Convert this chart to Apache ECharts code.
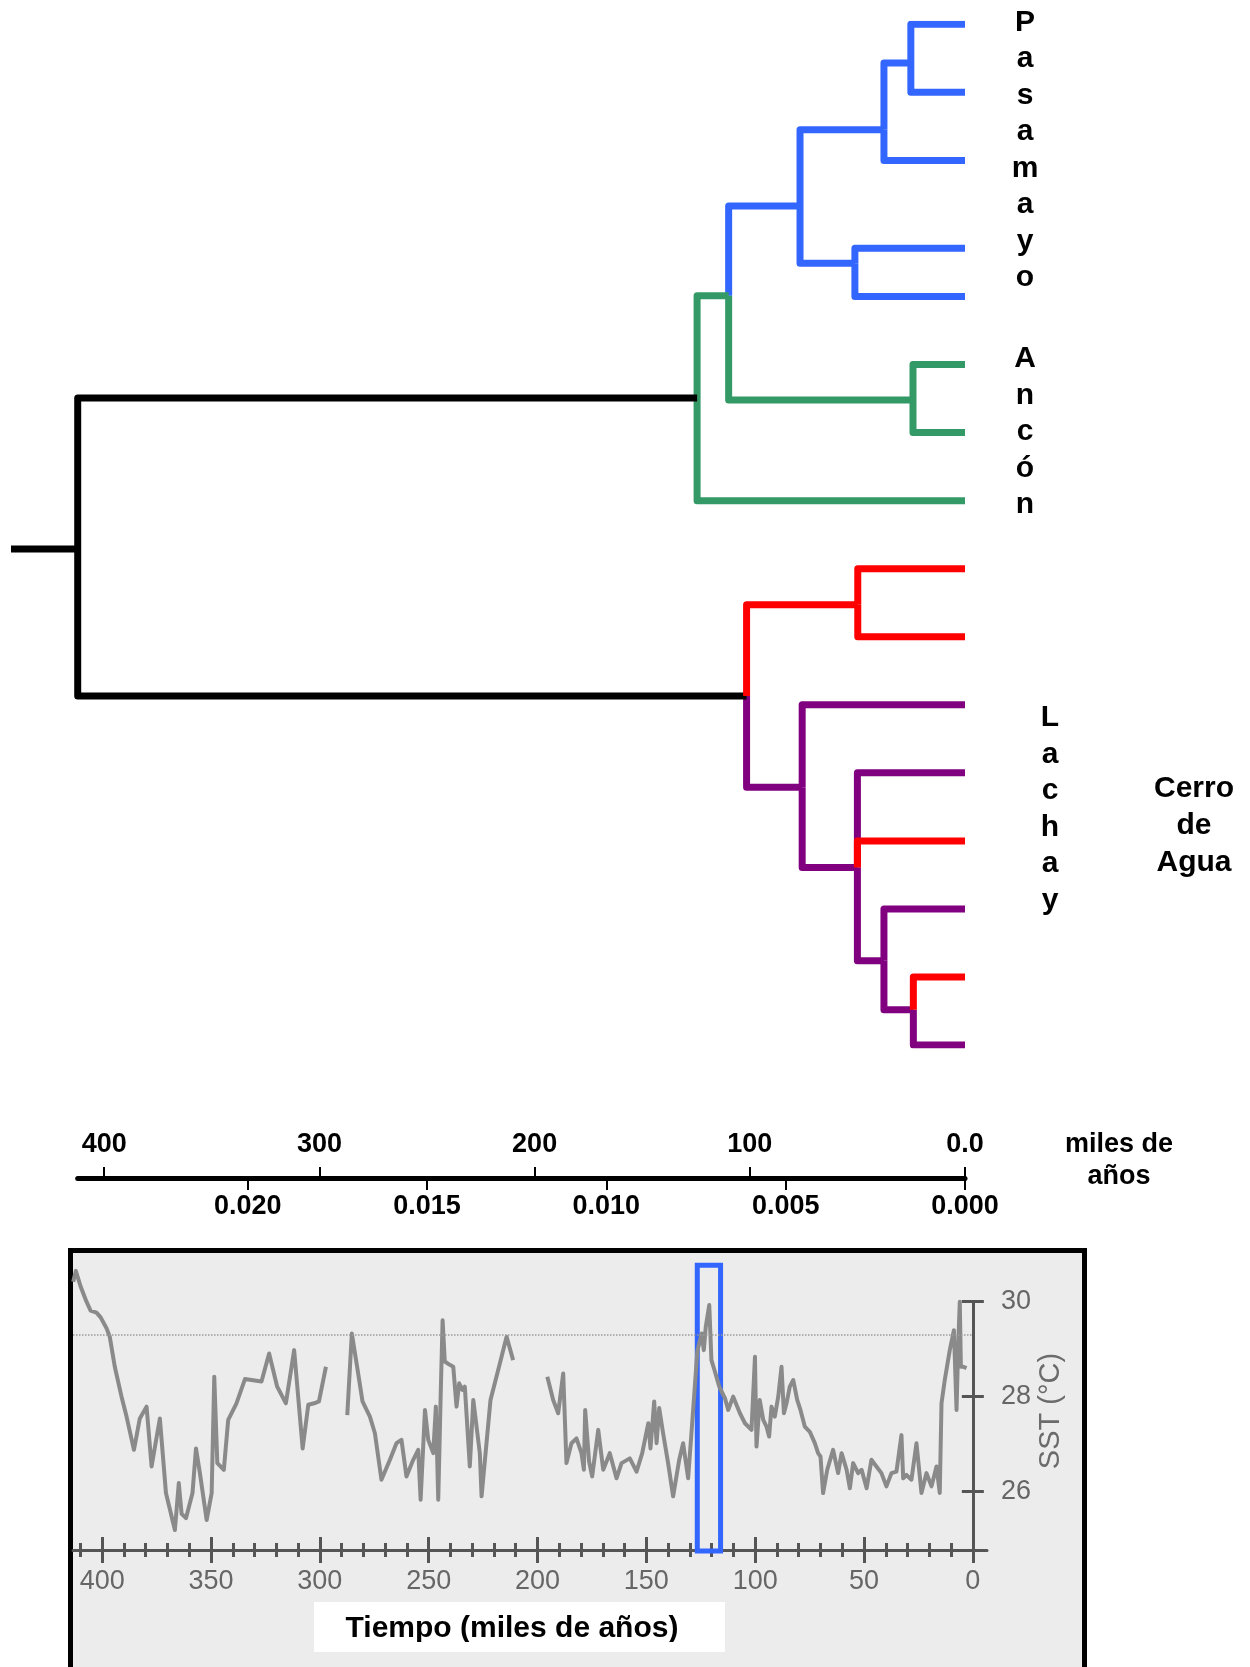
<!DOCTYPE html>
<html>
<head>
<meta charset="utf-8">
<title>Dendrograma y SST</title>
<script src="https://cdn.jsdelivr.net/npm/echarts@6.0.0/dist/echarts.min.js"></script>
<style>
  html, body { margin: 0; padding: 0; background: #fff; }
  #chart { width: 1250px; height: 1667px; }
</style>
</head>
<body>
<div id="chart"></div>
<script>
// ---- arbol: terminales (fila vertical, 0 = arriba) ----
const tipSlot = [0, 1, 2, 3.29, 4, 5, 6, 7, 8, 9, 10, 11, 12, 13, 14, 15];
const tipColor = ["blue", "blue", "blue", "blue", "blue", "green", "green", "green",
  "red", "red", "purple", "purple", "red", "purple", "red", "purple"];

// nodos internos: distancia, fila, hijos, color de la rama que llega al nodo
const nodeName = ["A", "B", "C", "D", "E", "F", "G", "H", "M", "L", "K", "J", "R2", "ROOT"];
const nodeDist = [0.00151, 0.00226, 0.00307, 0.00460, 0.00659, 0.00145, 0.00747,
  0.00299, 0.00144, 0.00226, 0.00300, 0.00454, 0.00609, 0.02474];
const nodeSlot = [0.57, 1.55, 3.51, 2.67, 3.99, 5.52, 5.49, 8.53, 14.48, 13.76, 12.39, 11.21, 9.87, 7.71];
const nodeKids = [["t0", "t1"], ["A", "t2"], ["t3", "t4"], ["B", "C"], ["D", "F"], ["t5", "t6"],
  ["E", "t7"], ["t8", "t9"], ["t14", "t15"], ["t13", "M"], ["t11", "t12", "L"], ["t10", "K"],
  ["H", "J"], ["G", "R2"]];
const nodeColor = ["blue", "blue", "blue", "blue", "green", "green", "black",
  "red", "purple", "purple", "purple", "purple", "black", "black"];
const rootStub = 0.02660;

// escalas del eje
const distTicks = [0, 0.005, 0.010, 0.015, 0.020];
const kaTicks = [0, 100, 200, 300, 400];
const distPerKa = 0.00006;

// ---- SST (panel inferior) ----
const sstAge = [413.3, 412.1, 409.9, 407.2, 405.3, 402.6, 400.7, 398.0, 396.5, 394.2,
  391.1, 388.8, 385.4, 382.7, 379.6, 377.3, 373.5, 370.7, 366.6, 364.8,
  363.5, 361.5, 358.5, 356.9, 355.1, 352.0, 349.7, 348.5, 347.1, 344.1,
  342.1, 338.3, 334.4, 331.4, 326.8, 323.3, 319.6, 315.6, 311.8, 307.9,
  305.3, 302.6, 300.4, 297.2,
  292,
  287.4, 285.3, 282.4, 280.4, 277.0, 274.7, 271.7, 267.8, 264.8, 262.5,
  260.2, 257.1, 254.8, 253.7, 251.7, 250.2, 247.9, 246.7, 245.6, 244.5,
  243.6, 242.6, 240.3, 238.7, 237.2, 236.0, 234.4, 233.4, 231.1, 229.5,
  226.5, 225.7, 221.6, 217.3, 214.2, 211.2,
  203,
  195.5, 192.8, 190.5, 188.2, 186.7, 184.4, 182.1, 179.8, 178.7, 178.1,
  176.3, 174.9, 172.1, 169.8, 166.8, 163.7, 161.4, 157.6, 154.5, 151.9,
  149.1, 148.1, 146.4, 145.3, 144.1, 142.3, 140.0, 137.7, 134.9, 133.1,
  130.8, 128.5, 126.6, 124.6, 123.6, 122.7, 121.1, 120.1, 118.5, 116.5,
  113.9, 112.4, 110.1, 107.0, 104.7, 101.7, 100.1, 99.4, 97.9, 96.3,
  94.8, 93.6, 92.5, 91.0, 89.4, 87.9, 86.8, 85.6, 84.1, 82.5,
  80.7, 79.2, 77.2, 74.9, 72.6, 71.1, 70.0, 68.8, 66.9, 64.2,
  61.9, 60.3, 58.0, 56.5, 55.0, 52.7, 51.1, 48.8, 46.6, 44.3,
  42.0, 39.7, 37.4, 35.1, 32.8, 32.0, 30.5, 28.2, 25.9, 23.6,
  21.3, 19.0, 16.7, 15.2, 14.4, 12.9, 10.6, 8.7, 7.5, 6.7,
  6.0, 5.5, 4.4, 2.9];
const sstTemp = [30.42, 30.65, 30.32, 30.00, 29.81, 29.77, 29.67, 29.44, 29.26, 28.63,
  28.00, 27.58, 26.88, 27.54, 27.79, 26.53, 27.54, 25.97, 25.19, 26.18,
  25.53, 25.44, 25.97, 26.91, 26.39, 25.40, 25.97, 28.42, 26.60, 26.46,
  27.51, 27.86, 28.37, 28.35, 28.32, 28.91, 28.21, 27.86, 28.98, 26.91,
  27.83, 27.86, 27.90, 28.63,
  null,
  27.61, 29.33, 28.49, 27.90, 27.58, 27.23, 26.25, 26.67, 27.02, 27.09,
  26.32, 26.67, 26.88, 25.83, 27.72, 27.09, 26.81, 27.79, 25.83, 28.00,
  29.61, 28.74, 28.67, 28.63, 27.79, 28.28, 28.14, 28.21, 26.53, 27.93,
  26.81, 25.90, 27.93, 28.70, 29.26, 28.77,
  null,
  28.42, 27.93, 27.65, 28.49, 26.60, 27.02, 27.12, 26.81, 26.46, 27.72,
  26.63, 26.32, 27.30, 26.46, 26.81, 26.28, 26.60, 26.70, 26.42, 26.81,
  27.44, 26.91, 27.90, 27.02, 27.76, 27.23, 26.60, 25.90, 26.67, 27.02,
  26.28, 27.72, 28.95, 29.33, 28.98, 29.47, 29.93, 28.77, 28.53, 28.21,
  27.97, 27.72, 28.00, 27.65, 27.44, 27.30, 28.84, 26.95, 27.93, 27.51,
  27.37, 27.16, 27.79, 27.58, 28.00, 28.63, 27.65, 27.86, 28.21, 28.35,
  27.93, 27.72, 27.37, 27.26, 27.02, 26.81, 26.74, 25.97, 26.46, 26.88,
  26.39, 26.81, 26.46, 26.07, 26.60, 26.39, 26.46, 26.07, 26.67, 26.53,
  26.39, 26.11, 26.39, 26.42, 27.19, 26.28, 26.35, 26.25, 27.02, 25.97,
  26.39, 26.11, 26.53, 25.97, 27.86, 28.35, 28.98, 29.40, 27.72, 29.12,
  30.00, 28.63, 28.63, 28.60];
const timeMajor = [0, 50, 100, 150, 200, 250, 300, 350, 400];
const timeMinor = [10, 20, 30, 40, 60, 70, 80, 90, 110, 120, 130, 140, 160, 170, 180, 190,
  210, 220, 230, 240, 260, 270, 280, 290, 310, 320, 330, 340, 360, 370, 380, 390, 410];
const sstTicks = [26, 28, 30];
const sstRef = 29.31;            // linea punteada
const ligAge = [126.6, 115.9];   // recuadro azul (ultimo interglacial)
const ligTemp = [30.77, 24.75];

const palette = { blue: "#3366ff", green: "#339966", red: "#ff0000", purple: "#800080", black: "#000000" };
const FONT = "Liberation Sans, Arial, Helvetica, sans-serif";
const GRAY = "#555";

// ramas del arbol en codo
function tipOrNode(id) {
  if (id[0] === "t") {
    const i = +id.slice(1);
    return { d: 0, s: tipSlot[i], c: tipColor[i] };
  }
  const k = nodeName.indexOf(id);
  return { d: nodeDist[k], s: nodeSlot[k], c: nodeColor[k] };
}
const edges = [];
nodeName.forEach((n, k) => {
  nodeKids[k].forEach((kid) => {
    const p = tipOrNode(kid);
    edges.push({
      coords: [[nodeDist[k], nodeSlot[k]], [nodeDist[k], p.s], [p.d, p.s]],
      lineStyle: { color: palette[p.c] },
      red: p.c === "red",
    });
  });
});
const r = nodeName.indexOf("ROOT");
edges.push({ coords: [[rootStub, nodeSlot[r]], [nodeDist[r], nodeSlot[r]]], lineStyle: { color: palette.black }, red: false });
edges.sort((a, b) => a.red - b.red);

const timeAxis = (ticks, len, inside, withLine, withLabel) => ({
  gridIndex: 2,
  type: "value",
  inverse: true,
  min: -6.5,
  max: 413.4,
  position: "bottom",
  splitLine: { show: false },
  axisLine: { show: withLine, onZero: false, lineStyle: { color: GRAY, width: 3 } },
  axisTick: { show: true, inside: inside, length: len, customValues: ticks, lineStyle: { color: GRAY, width: 3 } },
  axisLabel: { show: withLabel, customValues: ticks, margin: 18, color: "#666", fontSize: 27, fontFamily: FONT },
});
const sstAxis = (inside, withLabel) => ({
  gridIndex: 2,
  type: "value",
  min: 24.77,
  max: 30,
  position: "right",
  splitLine: { show: false },
  axisLine: { show: true, onZero: true, lineStyle: { color: GRAY, width: 3 } },
  axisTick: { show: true, inside: inside, length: 11, customValues: sstTicks, lineStyle: { color: GRAY, width: 3 } },
  axisLabel: { show: withLabel, customValues: sstTicks, margin: 14, color: "#666", fontSize: 27, fontFamily: FONT },
});

const chart = echarts.init(document.getElementById("chart"), null, { renderer: "canvas" });
chart.setOption({
  animation: false,
  backgroundColor: "#ffffff",
  textStyle: { fontFamily: FONT },
  grid: [
    { left: 11, right: 285, top: 24.3, height: 1020.75, containLabel: false, outerBoundsMode: "none" },
    { left: 77.7, right: 285, top: 1177, height: 1, containLabel: false, outerBoundsMode: "none" },
    { left: 73, right: 263, top: 1301.7, height: 248.3, containLabel: false, outerBoundsMode: "none" },
  ],
  xAxis: [
    { gridIndex: 0, type: "value", min: 0, max: rootStub, inverse: true, show: false },
    {
      gridIndex: 1,
      type: "value",
      min: 0,
      max: nodeDist[r],
      inverse: true,
      position: "bottom",
      splitLine: { show: false },
      axisLine: { show: true, onZero: false, lineStyle: { color: "#000", width: 5 } },
      axisTick: { show: true, length: 12, customValues: distTicks, lineStyle: { color: "#000", width: 2 } },
      axisLabel: {
        customValues: distTicks,
        formatter: (v) => v.toFixed(3),
        margin: 15,
        color: "#000",
        fontSize: 27,
        fontWeight: "bold",
        fontFamily: FONT,
      },
    },
    {
      gridIndex: 1,
      type: "value",
      min: 0,
      max: nodeDist[r] / distPerKa,
      inverse: true,
      position: "bottom",
      splitLine: { show: false },
      axisLine: { show: false, onZero: false },
      axisTick: { show: true, inside: true, length: 11, customValues: kaTicks, lineStyle: { color: "#000", width: 2 } },
      axisLabel: {
        inside: true,
        customValues: kaTicks,
        formatter: (v) => (v === 0 ? "0.0" : String(v)),
        margin: 19.5,
        color: "#000",
        fontSize: 27,
        fontWeight: "bold",
        fontFamily: FONT,
      },
    },
    timeAxis(timeMajor, 13, false, true, true),
    timeAxis(timeMajor, 13, true, false, false),
    timeAxis(timeMinor, 7, false, false, false),
    timeAxis(timeMinor, 7, true, false, false),
  ],
  yAxis: [
    { gridIndex: 0, type: "value", min: 0, max: 15, inverse: true, show: false },
    { gridIndex: 1, type: "value", min: 0, max: 1, show: false },
    sstAxis(false, true),
    sstAxis(true, false),
  ],
  series: [
    {
      name: "arbol",
      type: "lines",
      coordinateSystem: "cartesian2d",
      xAxisIndex: 0,
      yAxisIndex: 0,
      polyline: true,
      silent: true,
      lineStyle: { width: 7, opacity: 1, cap: "butt", join: "round" },
      data: edges.map((e) => ({ coords: e.coords, lineStyle: e.lineStyle })),
    },
    {
      name: "SST",
      type: "line",
      xAxisIndex: 3,
      yAxisIndex: 2,
      showSymbol: false,
      clip: false,
      connectNulls: false,
      lineStyle: { color: "#8a8a8a", width: 4, join: "round" },
      data: sstAge.map((a, i) => [a, sstTemp[i]]),
      markLine: {
        silent: true,
        symbol: ["none", "none"],
        label: { show: false },
        lineStyle: { color: "#9a9a9a", type: "dotted", width: 1.5 },
        data: [[{ coord: [413.4, sstRef] }, { coord: [0, sstRef] }]],
      },
    },
    {
      name: "interglacial",
      type: "custom",
      xAxisIndex: 3,
      yAxisIndex: 2,
      clip: false,
      silent: true,
      data: [ligAge],
      renderItem: (params, api) => {
        const p1 = api.coord([api.value(0), ligTemp[0]]);
        const p2 = api.coord([api.value(1), ligTemp[1]]);
        return {
          type: "rect",
          shape: { x: p1[0], y: p1[1], width: p2[0] - p1[0], height: p2[1] - p1[1] },
          style: { fill: null, stroke: palette.blue, lineWidth: 5 },
        };
      },
    },
  ],
  graphic: [
    {
      type: "rect",
      z: -5,
      shape: { x: 70.5, y: 1250.5, width: 1014, height: 460 },
      style: { fill: "#ececec", stroke: "#000", lineWidth: 5 },
    },
    {
      type: "text", x: 1025, y: 150,
      style: { text: "P\na\ns\na\nm\na\ny\no", font: "bold 30px " + FONT, fill: "#000", textAlign: "center", textVerticalAlign: "middle", lineHeight: 36.5 },
    },
    {
      type: "text", x: 1025, y: 432,
      style: { text: "A\nn\nc\nó\nn", font: "bold 30px " + FONT, fill: "#000", textAlign: "center", textVerticalAlign: "middle", lineHeight: 36.5 },
    },
    {
      type: "text", x: 1050, y: 809,
      style: { text: "L\na\nc\nh\na\ny", font: "bold 30px " + FONT, fill: "#000", textAlign: "center", textVerticalAlign: "middle", lineHeight: 36.5 },
    },
    {
      type: "text", x: 1194, y: 826,
      style: { text: "Cerro\nde\nAgua", font: "bold 30px " + FONT, fill: "#000", textAlign: "center", textVerticalAlign: "middle", lineHeight: 37 },
    },
    {
      type: "text", x: 1119, y: 1161,
      style: { text: "miles de\naños", font: "bold 27px " + FONT, fill: "#000", textAlign: "center", textVerticalAlign: "middle", lineHeight: 32 },
    },
    {
      type: "text", x: 1051, y: 1411, rotation: Math.PI / 2,
      style: { text: "SST (°C)", font: "29px " + FONT, fill: "#6b6b6b", textAlign: "center", textVerticalAlign: "middle" },
    },
    {
      type: "rect", z: 20,
      shape: { x: 314, y: 1602, width: 411, height: 50 },
      style: { fill: "#ffffff" },
    },
    {
      type: "text", z: 21, x: 512, y: 1629,
      style: { text: "Tiempo (miles de años)", font: "bold 30px " + FONT, fill: "#000", textAlign: "center", textVerticalAlign: "middle" },
    },
    {
      type: "rect", z: 22,
      shape: { x: 314, y: 1642, width: 411, height: 10 },
      style: { fill: "#ffffff" },
    },
  ],
});
</script>
</body>
</html>
